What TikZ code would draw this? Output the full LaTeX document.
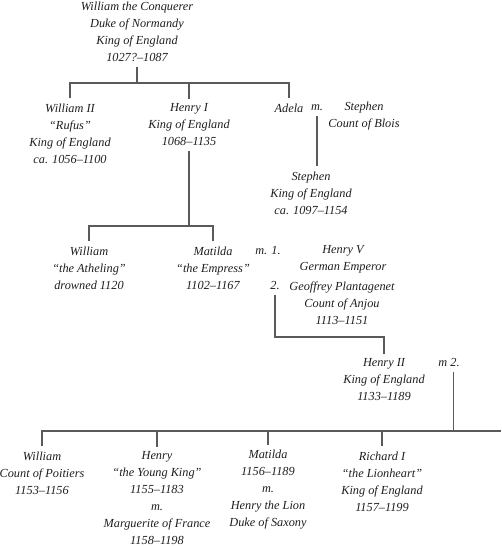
\documentclass[tikz,border=0pt]{standalone}
\usepackage{fontspec}
\setmainfont{Liberation Serif}
\usepackage{tikz}
\usetikzlibrary{positioning}

\definecolor{linkgray}{HTML}{5A5A5A}
\definecolor{inkdark}{HTML}{1E1E1E}

\tikzset{
  person/.style={align=center, inner sep=1pt, outer sep=2pt, text=inkdark,
    font=\fontsize{7}{9.67}\selectfont\itshape},
  link/.style={draw=linkgray, line width=0.6pt}
}

\begin{document}
\begin{tikzpicture}[x=0.02cm, y=-0.02cm]
    \useasboundingbox (0,0) rectangle (501,546);

    % 1. William the Conquerer
    \node[person] (conq) at (137,31.5) {William the Conquerer\\Duke of Normandy\\King of England\\1027?–1087};

    % 2. His children
    \node[person] (rufus) at (70,133.5) {William II\\“Rufus”\\King of England\\ca. 1056–1100};
    \node[person] (henryI) at (189,125) {Henry I\\King of England\\1068–1135};
    \node[person] (adela) at (289,108) {Adela};
    \node[person] (mA) at (317,108) {m.};
    \node[person] (blois) at (364,116.5) {Stephen\\Count of Blois};
    \node[person] (stephen) at (311,193) {Stephen\\King of England\\ca. 1097–1154};

    % 3. Children of Henry I
    \node[person] (atheling) at (89,268) {William\\“the Atheling”\\drowned 1120};
    \node[person] (empress) at (213,268) {Matilda\\“the Empress”\\1102–1167};
    \node[person] (mB) at (268,251) {m. 1.};
    \node[person] (mC) at (275,286) {2.};
    \node[person] (henryV) at (343,259.5) {Henry V\\German Emperor};
    \node[person] (geoffrey) at (342,303) {Geoffrey Plantagenet\\Count of Anjou\\1113–1151};

    % 4. Henry II
    \node[person] (henryII) at (384,380) {Henry II\\King of England\\1133–1189};
    \node[person] (mD) at (449,363) {m 2.};

    % 5. Children of Henry II
    \node[person] (poitiers) at (42,473) {William\\Count of Poitiers\\1153–1156};
    \node[person] (youngking) at (157,498.5) {Henry\\“the Young King”\\1155–1183\\m.\\Marguerite of France\\1158–1198};
    \node[person] (saxony) at (268,490) {Matilda\\1156–1189\\m.\\Henry the Lion\\Duke of Saxony};
    \node[person] (lionheart) at (382,481.5) {Richard I\\“the Lionheart”\\King of England\\1157–1199};

    % Horizontal bars
    \coordinate (barA) at (0,83);
    \coordinate (barB) at (0,226);
    \coordinate (barC) at (0,337);
    \coordinate (barD) at (0,431);
    \coordinate (barDend) at (501,431);

    \draw[link] (conq.south) -- (conq.south |- barA);
    \draw[link] (rufus.north) -- (rufus.north |- barA) -- (adela.north |- barA) -- (adela.north);
    \draw[link] (henryI.north) -- (henryI.north |- barA);
    \draw[link] (mA.south) -- (mA.south |- stephen.north);

    \draw[link] (henryI.south) -- (henryI.south |- barB);
    \draw[link] (atheling.north) -- (atheling.north |- barB) -- (empress.north |- barB) -- (empress.north);
    \draw[link] (mC.south) |- (henryII.north |- barC) -- (henryII.north);

    \draw[link] ([xshift=2.8pt]mD.south) -- ([xshift=2.8pt]mD.south |- barD);
    \draw[link] (poitiers.north) -- (poitiers.north |- barD) -- (barDend);
    \foreach \kid in {youngking, saxony, lionheart}
        \draw[link] (\kid.north) -- (\kid.north |- barD);

\end{tikzpicture}
\end{document}
